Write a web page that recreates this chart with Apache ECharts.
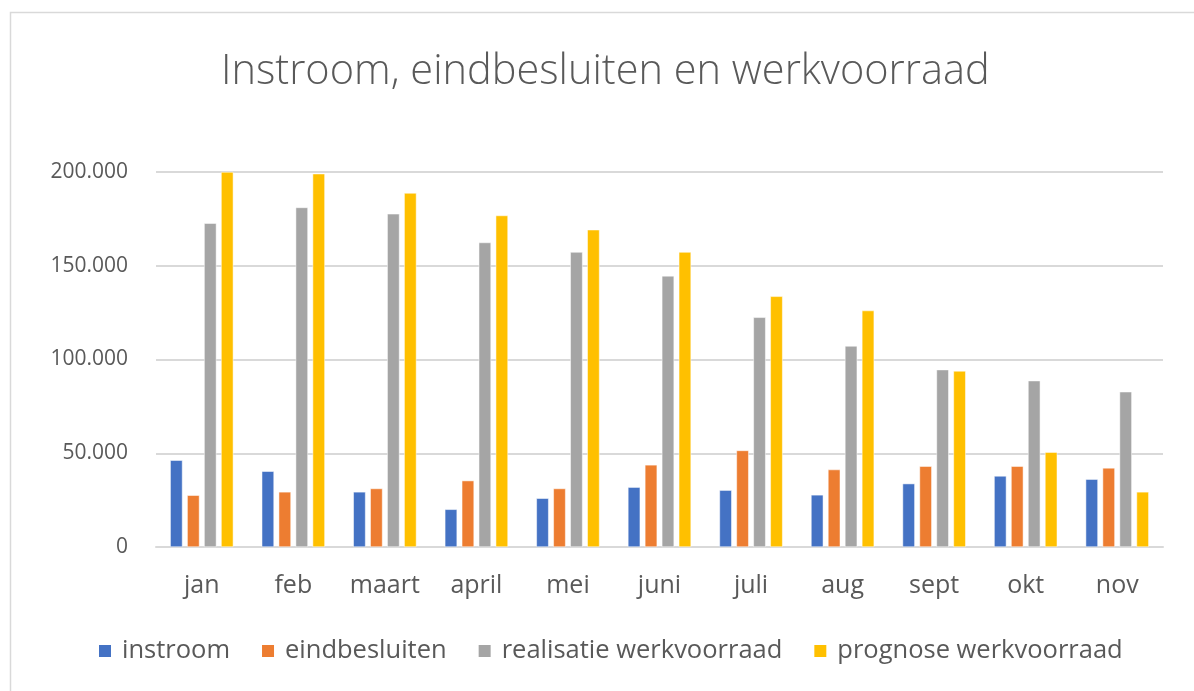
<!DOCTYPE html>
<html>
<head>
<meta charset="utf-8">
<script src="https://cdn.jsdelivr.net/npm/echarts@6/dist/echarts.min.js"></script>
<style>
html,body{margin:0;padding:0;background:#fff;}
#chart{width:1194px;height:691px;}
</style>
</head>
<body>
<div id="chart"></div>
<script>
const categories = ['jan','feb','maart','april','mei','juni','juli','aug','sept','okt','nov'];
const instroom = [46300,40400,29400,20100,26000,31900,30300,27800,33800,37900,36200];
const eindbesluiten = [27600,29400,31200,35400,31200,43800,51500,41300,43100,43100,42200];
const realisatie = [172700,181100,177700,162400,157300,144600,122500,107200,94600,88700,82800];
const prognose = [200000,199100,188800,176800,169200,157300,133700,126100,93900,50600,29400];
const seriesNames = ['instroom','eindbesluiten','realisatie werkvoorraad','prognose werkvoorraad'];
const colors = ['#4472C4','#ED7D31','#A5A5A5','#FFC000'];
const yTicks = {min:0, max:200000, interval:50000};

const font = '"Open Sans", "Noto Sans", sans-serif';
const chart = echarts.init(document.getElementById('chart'));
const dataSets = [instroom, eindbesluiten, realisatie, prognose];
chart.setOption({
  animation:false,
  backgroundColor:'#fff',
  graphic:[{type:'rect', shape:{x:10.5,y:12.5,width:1200,height:700}, style:{fill:'none',stroke:'#d9d9d9',lineWidth:1.5}, silent:true}],
  title:{text:'Instroom, eindbesluiten en werkvoorraad', left:216, top:46,
    textStyle:{fontFamily:font, fontWeight:300, fontSize:41.5, color:'#595959'}},
  legend:{top:633, left:92, itemWidth:14, itemHeight:14, itemGap:30, icon:'rect',
    textStyle:{fontFamily:font, fontSize:25.5, color:'#595959', padding:[0,0,0,5]}, data:seriesNames},
  grid:{left:156, right:31, top:172, bottom:144},
  xAxis:{type:'category', data:categories,
    axisLine:{lineStyle:{color:'#d9d9d9', width:2}}, axisTick:{show:false},
    axisLabel:{fontFamily:font, fontSize:25, color:'#595959', margin:26}},
  yAxis:{type:'value', min:yTicks.min, max:yTicks.max, interval:yTicks.interval,
    axisLine:{show:false}, axisTick:{show:false},
    splitLine:{lineStyle:{color:'#d9d9d9', width:2}},
    axisLabel:{fontFamily:font, fontSize:21, color:'#595959', margin:28,
      formatter:v=>v===0?'0':v.toLocaleString('de-DE')}},
  series: dataSets.map((d,i)=>({
    name:seriesNames[i], type:'bar', data:d, barGap:'38%', barCategoryGap:'31%',
    itemStyle:{color:colors[i], borderColor:'#fff', borderWidth:0.5}
  }))
});
</script>
</body>
</html>
